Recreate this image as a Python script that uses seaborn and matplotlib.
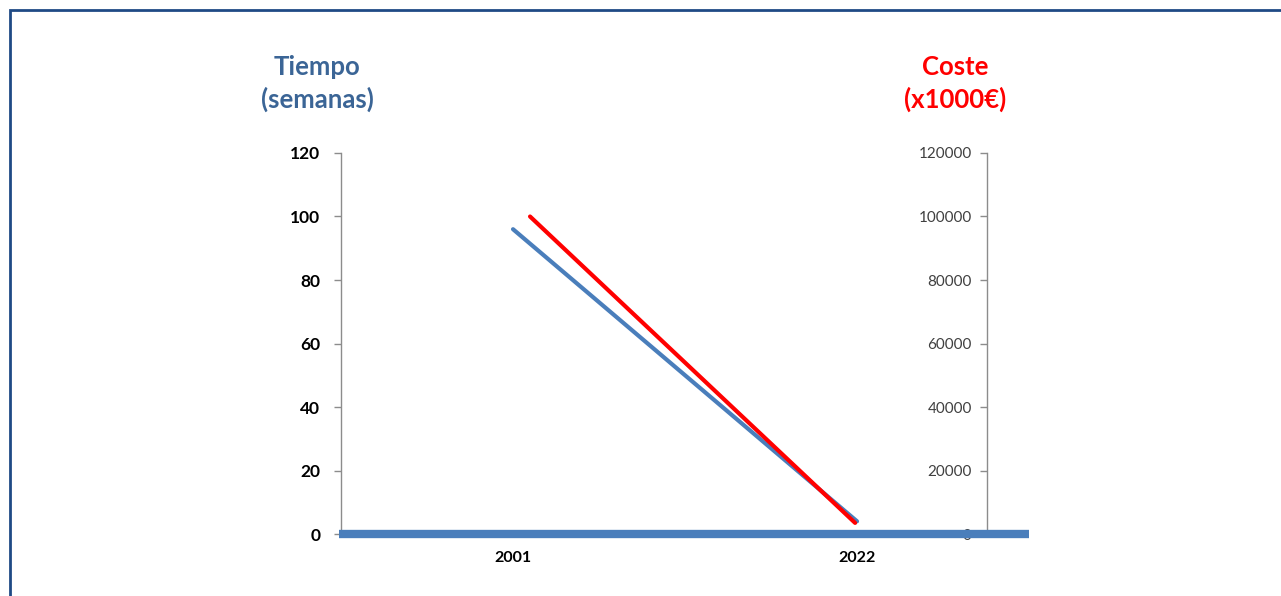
import matplotlib
matplotlib.use("Agg")
import matplotlib.pyplot as plt
import matplotlib.patches as mpatches
import seaborn as sns
import pandas as pd

# Data
years = ["2001", "2022"]
tiempo_semanas = [96, 4]
coste_miles_eur = [100000, 3500]
tiempo_ticks = [0, 20, 40, 60, 80, 100, 120]
coste_ticks = [0, 20000, 40000, 60000, 80000, 100000, 120000]

sns.set_theme(style="white")
plt.rcParams["font.family"] = ["Lato", "DejaVu Sans"]

BLUE = "#4A7EBB"
TITLE_BLUE = "#3B6596"
RED = "#FF0000"
SPINE = "#8C8C8C"

df_t = pd.DataFrame({"year": years, "tiempo": tiempo_semanas})
df_c = pd.DataFrame({"year": years, "coste": coste_miles_eur})

fig = plt.figure(figsize=(12.81, 5.96), dpi=100)
pos = [0.2662, 0.1040, 0.5371, 0.6393]

# Primary axis: time in weeks
ax = fig.add_axes(pos)
sns.lineplot(data=df_t, x="year", y="tiempo", ax=ax, color=BLUE,
             linewidth=3, sort=False)
ax.set_xlim(-0.5, 1.5)
ax.set_ylim(0, 120)
ax.set_yticks(tiempo_ticks)
ax.set_xlabel("")
ax.set_ylabel("")
for s in ["top", "right", "bottom"]:
    ax.spines[s].set_visible(False)
ax.spines["left"].set_color(SPINE)
ax.spines["left"].set_linewidth(1)
ax.tick_params(axis="y", left=True, length=5, width=1, color=SPINE,
               labelsize=12.5, pad=10)
ax.tick_params(axis="x", bottom=False, labelsize=11.5, pad=6)
for lbl in ax.get_yticklabels() + ax.get_xticklabels():
    lbl.set_fontweight("bold")
    lbl.set_color("black")

# Secondary axis: cost in thousands of euros
ax2 = fig.add_axes(pos, facecolor="none")
sns.lineplot(data=df_c, x="year", y="coste", ax=ax2, color=RED,
             linewidth=3, sort=False)
ax2.set_xlim(-0.5815, 1.535)
ax2.set_ylim(0, 120000)
ax2.set_yticks(coste_ticks)
ax2.set_xlabel("")
ax2.set_ylabel("")
ax2.set_xticks([])
for s in ["top", "right"]:
    ax2.spines[s].set_visible(False)
ax2.spines["left"].set_position(("axes", 0.939))
ax2.spines["left"].set_color(SPINE)
ax2.spines["left"].set_linewidth(1)
ax2.spines["bottom"].set_color(BLUE)
ax2.spines["bottom"].set_linewidth(6)
ax2.spines["bottom"].set_bounds(-0.588, 1.535)
ax2.spines["bottom"].set_capstyle("butt")
ax2.tick_params(axis="y", left=True, length=5, width=1, color=SPINE,
                labelsize=11, labelcolor="#404040", pad=6)

# Axis titles
fig.text(0.2475, 0.860, "Tiempo\n(semanas)", ha="center", va="center",
         fontsize=18.5, fontweight="bold", color=TITLE_BLUE, linespacing=1.4)
fig.text(0.7455, 0.860, "Coste\n(x1000€)", ha="center", va="center",
         fontsize=18.5, fontweight="bold", color=RED, linespacing=1.4)

# Frame around the figure (open at right and bottom edges)
top = 1 - 10 / 596
frame = mpatches.Rectangle((10 / 1281, -0.2), 1.2, top + 0.2,
                           transform=fig.transFigure, fill=False,
                           edgecolor="#1F4A85", linewidth=2, clip_on=False)
fig.patches.append(frame)

fig.savefig("out.png", dpi=100)
